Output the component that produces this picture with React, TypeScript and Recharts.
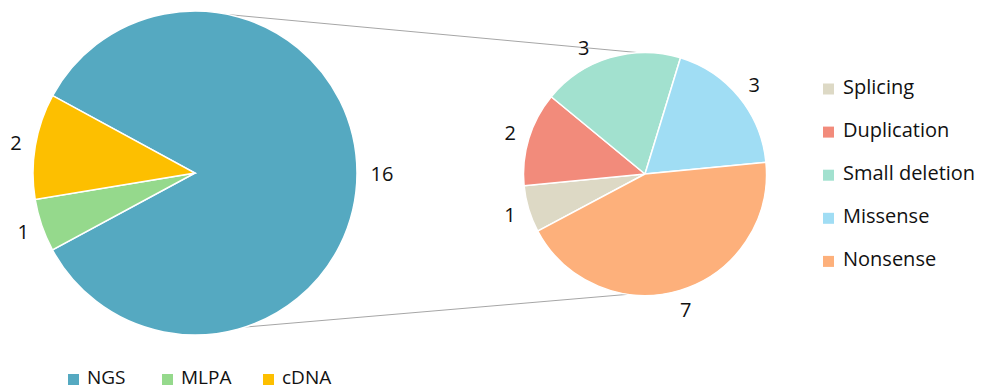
import React from "react";
import { PieChart, Pie, Cell, Customized } from "recharts";

// main pie: detection method
const methodNames = ["NGS", "MLPA", "cDNA"];
const methodCounts = [16, 1, 2];
const methodColors = ["#55A9C1", "#95D98C", "#FDBF00"];

// secondary pie: variant type
const variantNames = ["Splicing", "Duplication", "Small deletion", "Missense", "Nonsense"];
const variantCounts = [1, 2, 3, 3, 7];
const variantColors = ["#DDD9C5", "#F28B7B", "#A2E1CF", "#A0DDF4", "#FDB07B"];

const methodData = methodNames.map((name, i) => ({ name, value: methodCounts[i] }));
const variantData = variantNames.map((name, i) => ({ name, value: variantCounts[i] }));

const FONT = "'Open Sans', sans-serif";
const RAD = Math.PI / 180;

const LEFT = { cx: 195, cy: 173, r: 162 };
const RIGHT = { cx: 645, cy: 174, r: 121.5 };

// labels sit just outside the slice, pushed further for wider text
const makeLabel = (nudge: Record<string, number> = {}) => (p: any) => {
  const name = p.payload?.name ?? p.name;
  const txt = String(p.value);
  const a = (p.midAngle + (nudge[name] ?? 0)) * RAD;
  const r = p.outerRadius + 14 + 5.5 * txt.length;
  const x = p.cx + r * Math.cos(a);
  const y = p.cy - r * Math.sin(a);
  return (
    <text x={x} y={y} textAnchor="middle" dominantBaseline="central"
      fontFamily={FONT} fontSize={20} fill="#111">
      {txt}
    </text>
  );
};

const polar = (c: { cx: number; cy: number; r: number }, deg: number) => ({
  x: c.cx + c.r * Math.cos(deg * RAD),
  y: c.cy - c.r * Math.sin(deg * RAD),
});

function Overlay() {
  const lt = polar(LEFT, 77.7);
  const lb = polar(LEFT, -72);
  const rt = polar(RIGHT, 93);
  const rb = polar(RIGHT, -98);
  return (
    <g>
      <line x1={lt.x} y1={lt.y} x2={rt.x} y2={rt.y} stroke="#A6A6A6" strokeWidth={1} />
      <line x1={lb.x} y1={lb.y} x2={rb.x} y2={rb.y} stroke="#A6A6A6" strokeWidth={1} />

      {variantNames.map((n, i) => {
        const base = 93.5 + i * 43.1;
        return (
          <g key={n}>
            <rect x={823} y={base - 10} width={11} height={11} fill={variantColors[i]} />
            <text x={843} y={base} fontFamily={FONT} fontSize={20} fill="#111">{n}</text>
          </g>
        );
      })}

      {methodNames.map((n, i) => {
        const xs = [68, 162, 263];
        return (
          <g key={n}>
            <rect x={xs[i]} y={374} width={11} height={11} fill={methodColors[i]} />
            <text x={xs[i] + 19} y={384} fontFamily={FONT} fontSize={19} fill="#111">{n}</text>
          </g>
        );
      })}
    </g>
  );
}

export default function App() {
  return (
    <div style={{ position: "fixed", left: 0, top: 0, width: 985, height: 390, background: "#fff" }}>
      <PieChart width={985} height={390} margin={{ top: 0, right: 0, bottom: 0, left: 0 }}>
        <Pie
          data={methodData}
          dataKey="value"
          nameKey="name"
          cx={LEFT.cx}
          cy={LEFT.cy}
          outerRadius={LEFT.r}
          startAngle={151.5}
          endAngle={-208.5}
          stroke="#FFFFFF"
          strokeWidth={1.5}
          label={makeLabel()}
          labelLine={false}
          isAnimationActive={false}
        >
          {methodData.map((d, i) => (
            <Cell key={d.name} fill={methodColors[i]} />
          ))}
        </Pie>
        <Pie
          data={variantData}
          dataKey="value"
          nameKey="name"
          cx={RIGHT.cx}
          cy={RIGHT.cy}
          outerRadius={RIGHT.r}
          startAngle={208}
          endAngle={-152}
          stroke="#FFFFFF"
          strokeWidth={1.5}
          label={makeLabel({ "Small deletion": 9 })}
          labelLine={false}
          isAnimationActive={false}
        >
          {variantData.map((d, i) => (
            <Cell key={d.name} fill={variantColors[i]} />
          ))}
        </Pie>
        <Customized component={Overlay} />
      </PieChart>
    </div>
  );
}
